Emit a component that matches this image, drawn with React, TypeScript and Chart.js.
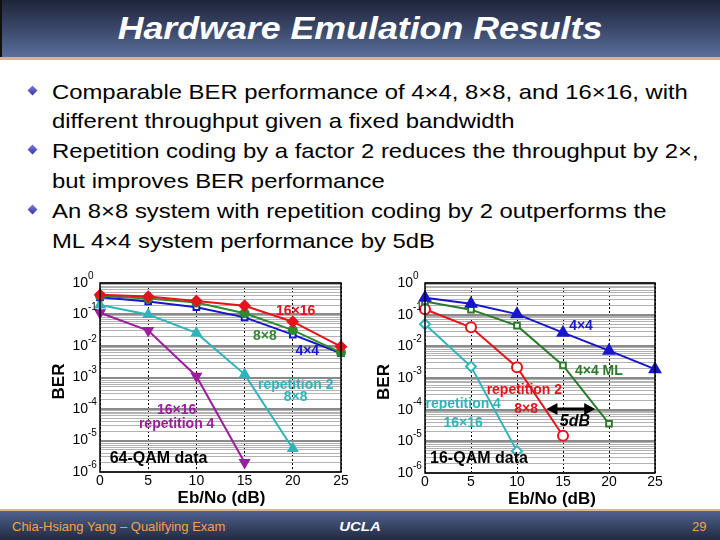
import React, { useEffect, useRef } from "react";
import { Chart, registerables } from "chart.js";

Chart.register(...registerables);

const FONT = "'Liberation Sans', Arial, Helvetica, sans-serif";

// ---------- data ----------
const snrDb = [0, 5, 10, 15, 20, 25];
const xTickValues = [0, 5, 10, 15, 20, 25];
const yTickExponents = [0, -1, -2, -3, -4, -5, -6];

// left plot: 64-QAM data
const berL16x16 = [0.42, 0.37, 0.27, 0.19, 0.059, 0.0095];
const berL8x8 = [0.39, 0.32, 0.24, 0.11, 0.032, 0.0062];
const berL4x4 = [0.35, 0.26, 0.17, 0.081, 0.023, 0.0059];
const berLRep2_8x8 = [0.2, 0.1, 0.026, 0.00126, 5.6e-6];
const berLRep4_16x16 = [0.114, 0.031, 0.0011, 2e-6];

// right plot: 16-QAM data
const berR4x4 = [0.34, 0.22, 0.104, 0.027, 0.0073, 0.0019];
const berR4x4ML = [0.26, 0.144, 0.045, 0.0025, 3.6e-5];
const berRRep2_8x8 = [0.148, 0.04, 0.0022, 1.5e-5];
const berRRep4_16x16 = [0.05, 0.0023, 4.9e-6];

const bulletLines = [
  { text: "Comparable BER performance of 4\u00d74, 8\u00d78, and 16\u00d716, with", bullet: true },
  { text: "different throughput given a fixed bandwidth", bullet: false },
  { text: "Repetition coding by a factor 2 reduces the throughput by 2\u00d7,", bullet: true },
  { text: "but improves BER performance", bullet: false },
  { text: "An 8\u00d78 system with repetition coding by 2 outperforms the", bullet: true },
  { text: "ML 4\u00d74 system performance by 5dB", bullet: false },
];

// ---------- styles ----------
const RED = "#e3141c";
const GREEN = "#2e8a2e";
const BLUE = "#1616cc";
const CYAN = "#2fb4ba";
const PURPLE = "#9e1c9e";
const DGREEN = "#2a7a2a";

type Note = { text: string; x: number; y: number; color: string; size: number; italic?: boolean; align?: CanvasTextAlign };

const pts = (vals: number[]) => vals.map((v, i) => ({ x: snrDb[i], y: v }));

function ds(label: string, vals: number[], color: string, style: any, radius: number, hollow: boolean, rotation = 0) {
  return {
    label,
    data: pts(vals),
    borderColor: color,
    backgroundColor: color,
    borderWidth: 2,
    pointStyle: style,
    pointRadius: radius,
    pointRotation: rotation,
    pointBorderColor: color,
    pointBackgroundColor: hollow ? "#ffffff" : color,
    pointBorderWidth: 2,
    tension: 0,
    clip: false,
  };
}

const leftDatasets = [
  ds("16\u00d716", berL16x16, RED, "rectRot", 5, false),
  ds("8\u00d78", berL8x8, GREEN, "circle", 4, false),
  ds("4\u00d74", berL4x4, BLUE, "rect", 4, true),
  ds("repetition 2 8\u00d78", berLRep2_8x8, CYAN, "triangle", 5, false),
  ds("16\u00d716 repetition 4", berLRep4_16x16, PURPLE, "triangle", 5, false, 180),
];

const rightDatasets = [
  ds("4\u00d74", berR4x4, BLUE, "triangle", 6, false),
  ds("4\u00d74 ML", berR4x4ML, DGREEN, "rect", 4, true),
  ds("repetition 2 8\u00d78", berRRep2_8x8, RED, "circle", 5, true),
  ds("repetition 4 16\u00d716", berRRep4_16x16, CYAN, "rectRot", 5, true),
];

const leftNotes: Note[] = [
  { text: "16\u00d716", x: 20.3, y: -0.88, color: RED, size: 14 },
  { text: "8\u00d78", x: 17.1, y: -1.68, color: GREEN, size: 14 },
  { text: "4\u00d74", x: 21.5, y: -2.15, color: BLUE, size: 14 },
  { text: "repetition 2", x: 20.3, y: -3.24, color: CYAN, size: 14 },
  { text: "8\u00d78", x: 20.3, y: -3.63, color: CYAN, size: 14 },
  { text: "16\u00d716", x: 7.95, y: -4.03, color: PURPLE, size: 14 },
  { text: "repetition 4", x: 7.95, y: -4.49, color: PURPLE, size: 14 },
  { text: "64-QAM data", x: 1.0, y: -5.57, color: "#000", size: 16, align: "left" },
];

const rightNotes: Note[] = [
  { text: "4\u00d74", x: 16.96, y: -1.37, color: BLUE, size: 14 },
  { text: "4\u00d74 ML", x: 18.9, y: -2.79, color: DGREEN, size: 14 },
  { text: "repetition 2", x: 10.8, y: -3.37, color: RED, size: 14 },
  { text: "8\u00d78", x: 11.0, y: -3.98, color: RED, size: 14 },
  { text: "repetition 4", x: 4.15, y: -3.84, color: CYAN, size: 14 },
  { text: "16\u00d716", x: 4.15, y: -4.42, color: CYAN, size: 14 },
  { text: "16-QAM data", x: 0.55, y: -5.56, color: "#000", size: 16, align: "left" },
  { text: "5dB", x: 16.3, y: -4.38, color: "#000", size: 16, italic: true },
];

const rightArrow = { x1: 13.2, x2: 18.5, y: -3.98 };

// ---------- plugin ----------
const slidePlugin = {
  id: "slideDecor",
  afterDatasetsDraw(chart: any) {
    const o = chart.options.plugins.slideDecor;
    const { ctx, scales } = chart;
    const xs = scales.x;
    const ys = scales.y;
    ctx.save();
    for (const n of o.notes as Note[]) {
      ctx.font = `${n.italic ? "italic " : ""}bold ${n.size}px ${FONT}`;
      ctx.fillStyle = n.color;
      ctx.textAlign = n.align || "center";
      ctx.textBaseline = "middle";
      ctx.fillText(n.text, xs.getPixelForValue(n.x), ys.getPixelForValue(Math.pow(10, n.y)));
    }
    if (o.arrow) {
      const a = o.arrow;
      const x1 = xs.getPixelForValue(a.x1);
      const x2 = xs.getPixelForValue(a.x2);
      const y = ys.getPixelForValue(Math.pow(10, a.y));
      ctx.strokeStyle = "#000";
      ctx.fillStyle = "#000";
      ctx.lineWidth = 3;
      ctx.beginPath();
      ctx.moveTo(x1 + 8, y);
      ctx.lineTo(x2 - 8, y);
      ctx.stroke();
      ctx.beginPath();
      ctx.moveTo(x1, y);
      ctx.lineTo(x1 + 11, y - 6);
      ctx.lineTo(x1 + 11, y + 6);
      ctx.closePath();
      ctx.fill();
      ctx.beginPath();
      ctx.moveTo(x2, y);
      ctx.lineTo(x2 - 11, y - 6);
      ctx.lineTo(x2 - 11, y + 6);
      ctx.closePath();
      ctx.fill();
    }
    ctx.restore();
  },
  afterDraw(chart: any) {
    const o = chart.options.plugins.slideDecor;
    const { ctx, chartArea: ca, scales } = chart;
    const xs = scales.x;
    const ys = scales.y;
    ctx.save();
    // frame
    ctx.strokeStyle = "#000";
    ctx.lineWidth = 1.5;
    ctx.strokeRect(ca.left, ca.top, ca.right - ca.left, ca.bottom - ca.top);
    // y tick labels 10^n
    ctx.fillStyle = "#000";
    ctx.textBaseline = "middle";
    for (const e of yTickExponents) {
      const py = ys.getPixelForValue(Math.pow(10, e));
      ctx.font = `14px ${FONT}`;
      ctx.textAlign = "right";
      ctx.fillText("10", ca.left - 12, py);
      ctx.font = `10px ${FONT}`;
      ctx.textAlign = "left";
      ctx.fillText(String(e), ca.left - 12, py - 7);
    }
    // x tick labels
    ctx.font = `14px ${FONT}`;
    ctx.textAlign = "center";
    for (const v of xTickValues) {
      ctx.fillText(String(v), xs.getPixelForValue(v), ca.bottom + o.xLabelGap);
    }
    // axis titles
    ctx.font = `bold 17px ${FONT}`;
    ctx.fillText("Eb/No (dB)", (ca.left + ca.right) / 2 + o.xTitleShift, ca.bottom + 26);
    ctx.save();
    ctx.translate(ca.left - 41, (ca.top + ca.bottom) / 2 + 4);
    ctx.rotate(-Math.PI / 2);
    ctx.font = `bold 17px ${FONT}`;
    ctx.fillText("BER", 0, 0);
    ctx.restore();
    ctx.restore();
  },
};

function mantissa(v: number) {
  const e = Math.floor(Math.log10(v) + 1e-9);
  return v / Math.pow(10, e);
}

function BerPlot(props: {
  left: number; top: number; width: number; height: number;
  padding: { left: number; top: number; right: number; bottom: number };
  datasets: any[]; notes: Note[]; arrow?: any; xTitleShift: number; xLabelGap: number;
}) {
  const ref = useRef<HTMLCanvasElement>(null);
  useEffect(() => {
    if (!ref.current) return;
    const chart = new Chart(ref.current, {
      type: "line",
      data: { datasets: props.datasets },
      plugins: [slidePlugin],
      options: {
        animation: false,
        responsive: false,
        maintainAspectRatio: false,
        layout: { padding: props.padding },
        scales: {
          x: {
            type: "linear",
            min: 0,
            max: 25,
            ticks: { display: false, stepSize: 5 },
            grid: { drawTicks: false, color: "#000", lineWidth: 1 },
            border: { display: false, dash: [2, 2] },
          },
          y: {
            type: "logarithmic",
            min: 1e-6,
            max: 1,
            ticks: { display: false, autoSkip: false },
            grid: {
              drawTicks: false,
              color: (c: any) => {
                const v = c.tick ? c.tick.value : 1;
                const m = mantissa(v);
                if (Math.abs(m - 1.5) < 0.01) return "rgba(0,0,0,0)";
                if (Math.abs(m - 1) < 0.01 || Math.abs(m - 10) < 0.01) return "#8a8a8a";
                return "#b2b2b2";
              },
              lineWidth: (c: any) => {
                const v = c.tick ? c.tick.value : 1;
                const m = mantissa(v);
                return Math.abs(m - 1) < 0.01 || Math.abs(m - 10) < 0.01 ? 2 : 1;
              },
            },
            border: { display: false },
          },
        },
        plugins: {
          legend: { display: false },
          tooltip: { enabled: false },
          slideDecor: { notes: props.notes, arrow: props.arrow, xTitleShift: props.xTitleShift, xLabelGap: props.xLabelGap },
        } as any,
      },
    } as any);
    return () => chart.destroy();
  }, []);
  return (
    <canvas
      ref={ref}
      width={props.width}
      height={props.height}
      style={{ position: "absolute", left: props.left, top: props.top, width: props.width, height: props.height }}
    />
  );
}

export default function App() {
  const bulletY = [92, 121, 151, 181, 211, 241];
  return (
    <div
      style={{
        position: "fixed", left: 0, top: 0, width: 720, height: 540, background: "#ffffff",
        overflow: "hidden", fontFamily: FONT,
      }}
    >
      {/* title bar */}
      <div
        style={{
          position: "absolute", left: 0, top: 0, width: 720, height: 57,
          background: "linear-gradient(180deg, #1f2538 0%, #3a4769 50%, #5a6f9c 100%)",
          borderLeft: "2px solid #111", boxSizing: "border-box",
        }}
      />
      <div style={{ position: "absolute", left: 0, top: 57, width: 720, height: 3, background: "#d9b68a" }} />
      <div
        style={{
          position: "absolute", left: 0, top: 8, width: 720, textAlign: "center", color: "#ffffff",
          fontSize: 32, fontWeight: "bold", fontStyle: "italic", lineHeight: "40px",
          transform: "scaleX(1.117)", transformOrigin: "360px 0",
        }}
      >
        Hardware Emulation Results
      </div>

      {/* bullets */}
      {bulletLines.map((l, i) => (
        <React.Fragment key={i}>
          {l.bullet && (
            <div
              style={{
                position: "absolute", left: 29, top: bulletY[i] - 5, width: 7, height: 7,
                background: "linear-gradient(135deg, #7c7cdc, #3434a4)", transform: "rotate(45deg)",
              }}
            />
          )}
          <div
            style={{
              position: "absolute", left: 52, top: bulletY[i] - 14, whiteSpace: "nowrap",
              fontSize: 21, lineHeight: "28px", color: "#000",
              transform: "scaleX(1.136)", transformOrigin: "0 0",
            }}
          >
            {l.text}
          </div>
        </React.Fragment>
      ))}

      <BerPlot
        left={40} top={265} width={320} height={245}
        padding={{ left: 60, top: 18, right: 19, bottom: 38 }}
        datasets={leftDatasets} notes={leftNotes} xTitleShift={1} xLabelGap={9}
      />
      <BerPlot
        left={365} top={265} width={345} height={245}
        padding={{ left: 60, top: 18, right: 55, bottom: 37 }}
        datasets={rightDatasets} notes={rightNotes} arrow={rightArrow} xTitleShift={12} xLabelGap={9}
      />

      {/* footer */}
      <div style={{ position: "absolute", left: 0, top: 509, width: 720, height: 2, background: "#d9b68a" }} />
      <div
        style={{
          position: "absolute", left: 0, top: 511, width: 720, height: 29,
          background: "linear-gradient(180deg, #50628f 0%, #33405f 60%, #222a40 100%)",
        }}
      />
      <div
        style={{
          position: "absolute", left: 12, top: 519, fontSize: 13, lineHeight: "16px", color: "#f2a44c",
          whiteSpace: "nowrap",
        }}
      >
        Chia-Hsiang Yang {"\u2013"} Qualifying Exam
      </div>
      <div
        style={{
          position: "absolute", left: 300, width: 120, top: 519, textAlign: "center", fontSize: 13,
          fontWeight: "bold", fontStyle: "italic", lineHeight: "16px", color: "#ffffff",
          transform: "scaleX(1.15)", transformOrigin: "60px 0",
        }}
      >
        UCLA
      </div>
      <div style={{ position: "absolute", left: 692, top: 519, fontSize: 13, lineHeight: "16px", color: "#f2a44c" }}>29</div>
    </div>
  );
}
